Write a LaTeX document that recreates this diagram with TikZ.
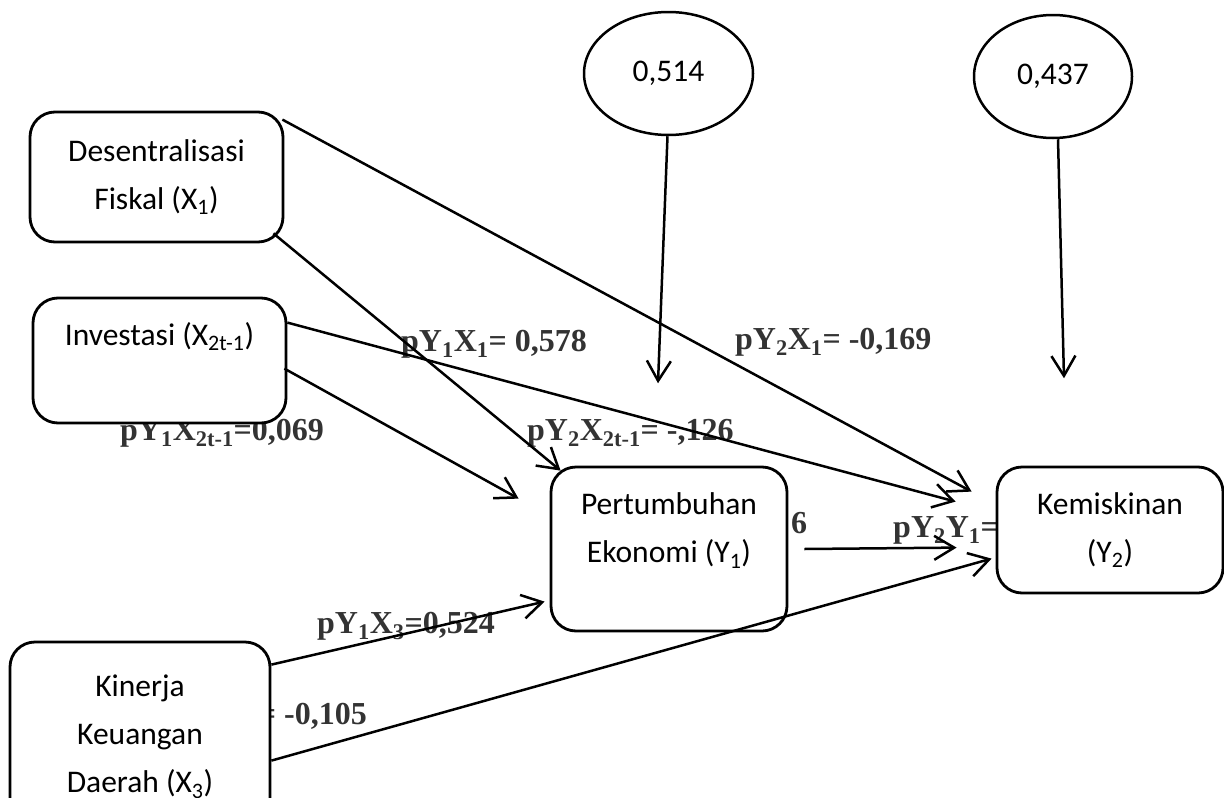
\documentclass[tikz,border=0pt]{standalone}
\usepackage{fontspec}
\setmainfont{Carlito}
\newfontfamily\coeffont{Liberation Serif}
\usetikzlibrary{arrows.meta, calc, shapes.geometric}

\begin{document}
\begin{tikzpicture}[x=1pt, y=-1pt, >={Straight Barb[length=20pt, width=24pt]},
    box/.style={draw, line width=2.8pt, rounded corners=25pt, fill=white, align=center,
        inner sep=0pt, font=\fontsize{31.5}{48}\selectfont},
    err/.style={draw, ellipse, line width=2.5pt, fill=white, inner sep=0pt,
        font=\fontsize{31.5}{38}\selectfont},
    coef/.style={inner sep=0pt, text=black!80, font=\coeffont\bfseries\fontsize{32}{38}\selectfont},
    link/.style={->, line width=2.5pt}]
        \useasboundingbox (0,0) rectangle (1224,798);
        \clip (0,0) rectangle (1224,798);

        % Path coefficients
        \node[coef, anchor=base west] (c1) at (401,351) {pY\textsubscript{1}X\textsubscript{1}= 0,578};
        \node[coef, anchor=base west] (c2) at (735,349) {pY\textsubscript{2}X\textsubscript{1}= -0,169};
        \node[coef, anchor=base west] (c3) at (120,440) {pY\textsubscript{1}X\textsubscript{2t-1}=0,069};
        \node[coef, anchor=base west] (c4) at (527,440) {pY\textsubscript{2}X\textsubscript{2t-1}= -,126};
        \node[coef, anchor=base west] (c5) at (791,533) {6};
        \node[coef, anchor=base west] (c6) at (893,537) {pY\textsubscript{2}Y\textsubscript{1}=};
        \node[coef, anchor=base west] (c7) at (317,633) {pY\textsubscript{1}X\textsubscript{3}=0,524};
        \node[coef, anchor=base east] (c8) at (367,724) {= -0,105};

        % Variables
        \node[box, minimum width=253pt, minimum height=130pt] (x1) at (156.5,177) {Desentralisasi\\Fiskal (X\textsubscript{1})};
        \node[box, minimum width=253pt, minimum height=125pt] (x2) at (159.5,360.5) {Investasi (X\textsubscript{2t-1})\\[6pt]\mbox{}};
        \node[box, minimum width=260pt, minimum height=190pt] (x3) at (140,737) {Kinerja\\Keuangan\\Daerah (X\textsubscript{3})};
        \node[box, minimum width=236pt, minimum height=164pt] (y1) at (669,549) {Pertumbuhan\\Ekonomi (Y\textsubscript{1})\\[-5pt]\mbox{}};
        \node[box, minimum width=226pt, minimum height=126pt] (y2) at (1110,530) {Kemiskinan\\(Y\textsubscript{2})};

        % Residuals
        \node[err, minimum width=169pt, minimum height=123pt] (e1) at (668.5,73.5) {0,514};
        \node[err, minimum width=158pt, minimum height=123pt] (e2) at (1053,76.5) {0,437};

        % Arrows
        \draw[link] ($(e1.south)+(-1,0)$) -- ($(e1.south)+(-10.5,247)$);
        \draw[link] ($(e2.south)+(5,0)$) -- ($(e2.south)+(11,239)$);
        \draw[link] ($(x1.north east)+(-2,9)$) -- ($(y2.north west)+(-24,26)$);
        \draw[link] ($(x1.south east)+(-11,-10)$) -- ($(y1.north west)+(11,5)$);
        \draw[link] ($(x2.north east)+(0,26)$) -- ($(y2.north west)+(-40,36)$);
        \draw[link] ($(x2.north east)+(-3,72)$) -- ($(y1.north west)+(-31,33)$);
        \draw[link] ($(y1.east)+(16,0)$) -- ($(y2.north west)+(-39,82)$);
        \draw[link] ($(x3.north east)+(0,24)$) -- ($(y1.north west)+(-5,136)$);
        \draw[link] ($(x3.north east)+(0,120)$) -- ($(y2.north west)+(-4,93)$);
    \end{tikzpicture}
\end{document}
